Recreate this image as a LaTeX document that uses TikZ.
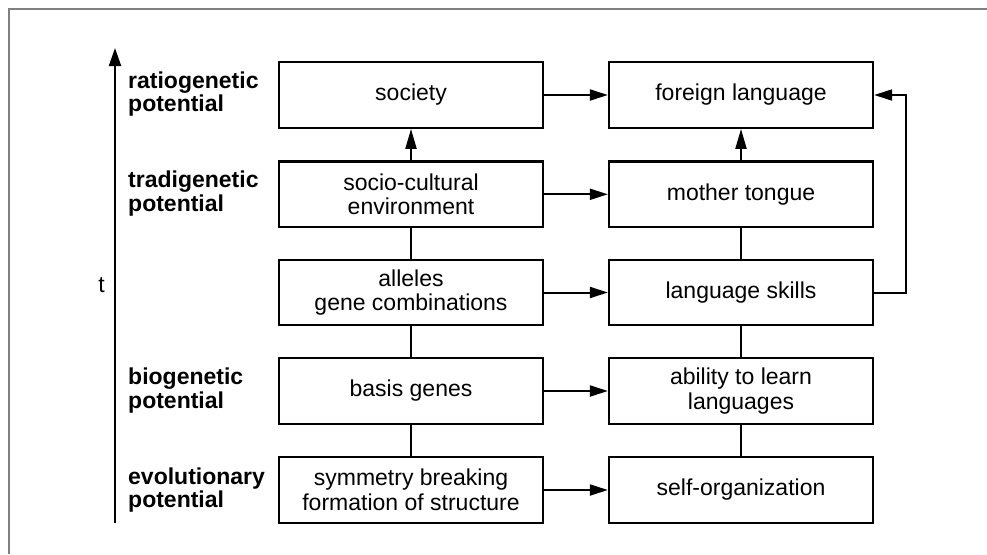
\documentclass[tikz,border=0pt]{standalone}
\usepackage{fontspec}
\setmainfont{Liberation Sans}
\usetikzlibrary{arrows.meta}
\begin{document}
\begin{tikzpicture}[x=1pt,y=-1pt,
  box/.style={draw, line width=2.3pt, minimum width=264pt, minimum height=65.5pt, inner sep=0pt, align=center, font=\fontsize{23}{24.5}\selectfont},
  lab/.style={anchor=west, align=left, inner sep=0pt, font=\fontsize{23}{23.5}\selectfont\bfseries},
  conn/.style={line width=2pt},
  arr/.style={line width=2pt, -{Triangle[length=18pt,width=11pt]}},
  varr/.style={line width=2pt, -{Triangle[length=20pt,width=11pt]}}]
\useasboundingbox (0,0) rectangle (987,554);
% frame
\draw[line width=2pt, color=black!50] (9,554) -- (9,9) -- (987,9);
% time axis
\coordinate (tbot) at (115,522.7);
\coordinate (ttop) at (115,48);
\draw[line width=2pt, -{Triangle[length=18pt,width=12pt]}] (tbot) -- (ttop);
\node[inner sep=0pt, font=\fontsize{23}{24.5}\selectfont] (t) at (101.5,285) {t};
% labels
\node[lab] (l1) at (128,94) {ratiogenetic\\potential};
\node[lab] (l2) at (128,193.5) {tradigenetic\\potential};
\node[lab] (l4) at (128,390.5) {biogenetic\\potential};
\node[lab] (l5) at (128,490) {evolutionary\\potential};
% boxes
\node[box] (society) at (411,95) {society};
\node[box] (socio) at (411,194.3) {socio-cultural\\environment};
\node[box] (alleles) at (411,292.5) {alleles\\gene combinations};
\node[box] (basis) at (411,391) {basis genes};
\node[box] (sym) at (411,490) {symmetry breaking\\formation of structure};
\node[box] (foreign) at (741,95) {foreign language};
\node[box] (mother) at (741,194.3) {mother tongue};
\node[box] (skills) at (741,292.5) {language skills};
\node[box] (ability) at (741,391) {ability to learn\\languages};
\node[box] (self) at (741,490) {self-organization};
% horizontal arrows
\draw[arr] (society) -- (foreign);
\draw[arr] (socio) -- (mother);
\draw[arr] (alleles) -- (skills);
\draw[arr] (basis) -- (ability);
\draw[arr] (sym) -- (self);
% vertical
\draw[varr] (socio) -- (society);
\draw[varr] (mother) -- (foreign);
\draw[conn] (alleles) -- (socio);
\draw[conn] (basis) -- (alleles);
\draw[conn] (sym) -- (basis);
\draw[conn] (skills) -- (mother);
\draw[conn] (ability) -- (skills);
\draw[conn] (self) -- (ability);
% feedback
\coordinate (fb) at (905.7,292.5);
\draw[arr] (skills.east) -- (fb) |- (foreign.east);
\end{tikzpicture}
\end{document}
